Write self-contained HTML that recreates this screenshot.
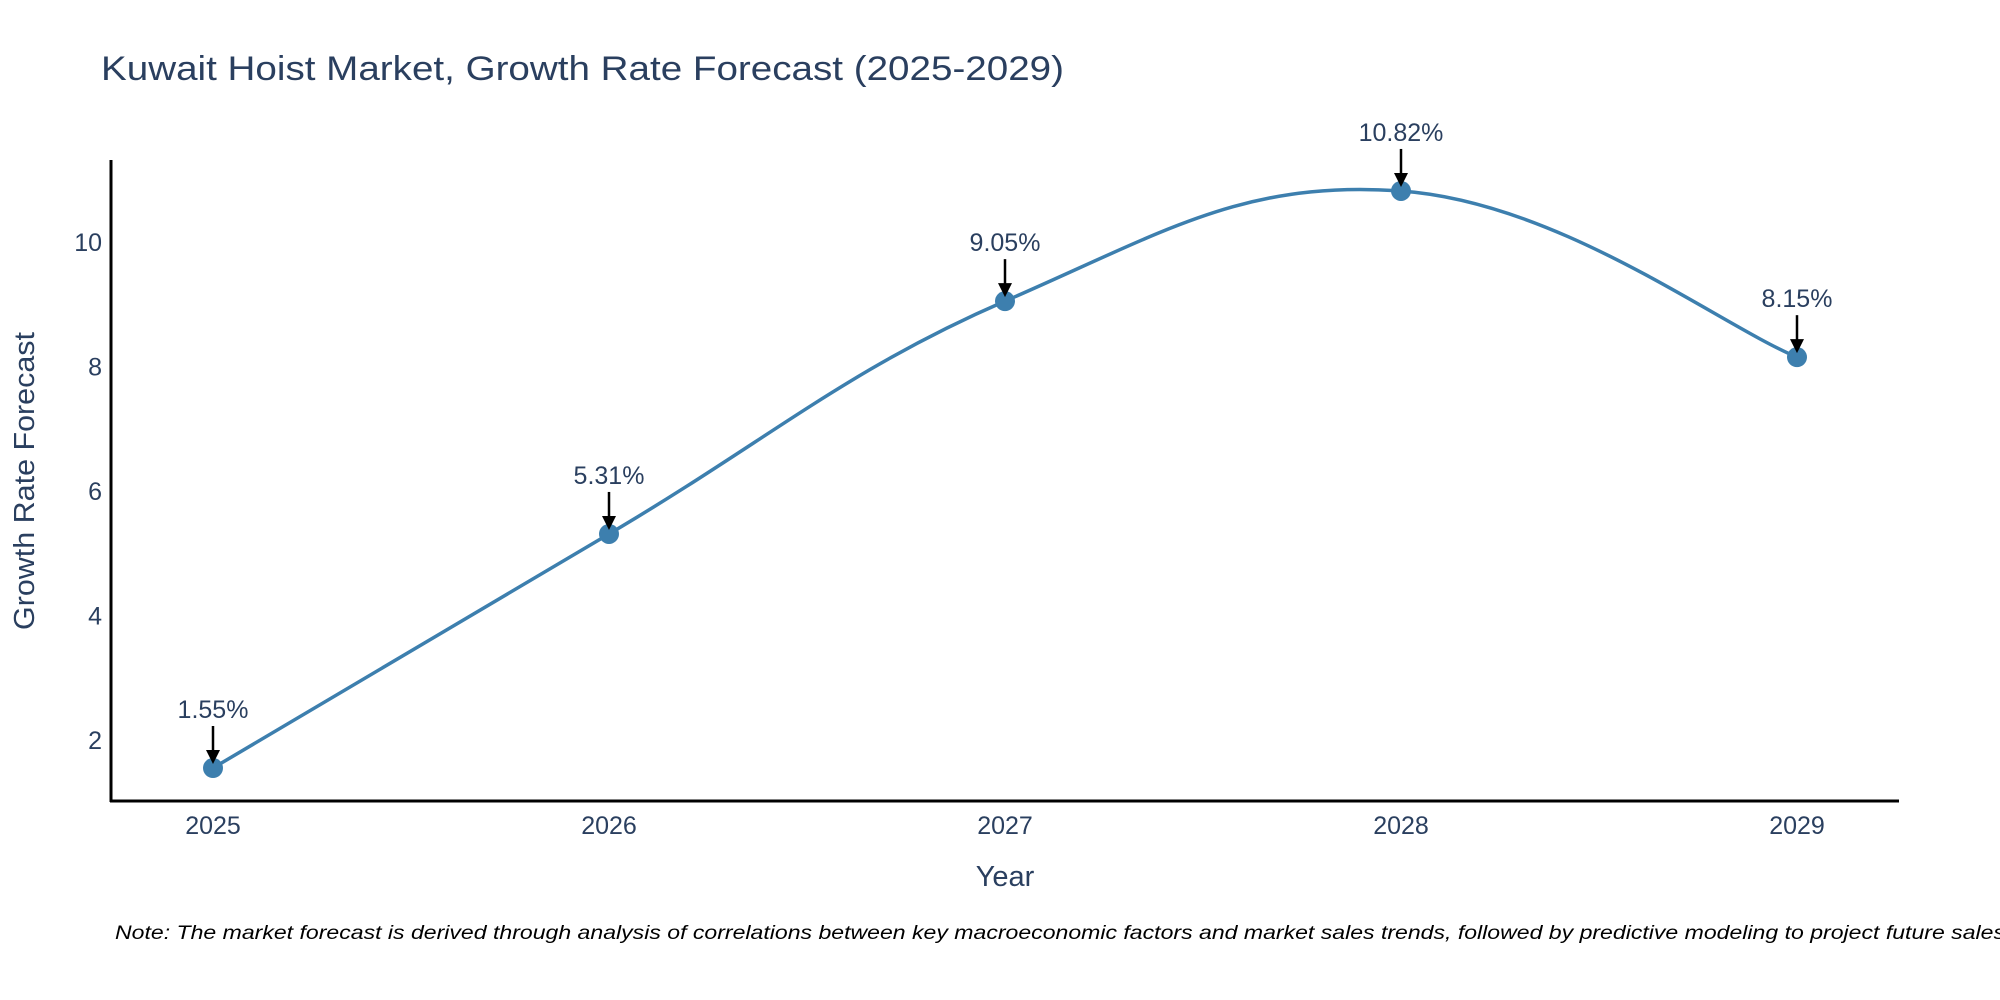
<!DOCTYPE html>
<html><head><meta charset="utf-8"><style>
body{margin:0;background:#fff;overflow:hidden;}
svg{display:block;font-family:"Liberation Sans","DejaVu Sans",sans-serif;}
</style></head><body>
<svg id="chart" width="2000" height="1000" viewBox="0 0 2000 1000">
<text x="101" y="80" font-size="34" fill="#2a3f5f" textLength="963" lengthAdjust="spacingAndGlyphs">Kuwait Hoist Market, Growth Rate Forecast (2025-2029)</text>
<g id="yticks"></g>
<g id="xticks"></g>
<line x1="111" y1="160" x2="111" y2="802" stroke="#000" stroke-width="3"/>
<line x1="110" y1="801" x2="1899" y2="801" stroke="#000" stroke-width="3"/>
<text transform="translate(34,481) rotate(-90)" text-anchor="middle" font-size="29" fill="#2a3f5f" textLength="298" lengthAdjust="spacingAndGlyphs">Growth Rate Forecast</text>
<text x="1005" y="886" text-anchor="middle" font-size="29" fill="#2a3f5f">Year</text>
<g id="series"></g>
<text x="115" y="939" font-size="19" font-style="italic" fill="#000" textLength="1890" lengthAdjust="spacingAndGlyphs">Note: The market forecast is derived through analysis of correlations between key macroeconomic factors and market sales trends, followed by predictive modeling to project future sales</text>
</svg>
<script>
const years = [2025, 2026, 2027, 2028, 2029];
const values = [1.55, 5.31, 9.05, 10.82, 8.15];
const labels = ["1.55%", "5.31%", "9.05%", "10.82%", "8.15%"];
const yTicks = [2, 4, 6, 8, 10];

const NS = "http://www.w3.org/2000/svg";
function xS(v){ return 213 + (v - 2025) * (1797 - 213) / 4; }
function yS(v){ return 740 - (v - 2) * (740 - 242) / 8; }
function mk(tag, attrs, parent){ const e = document.createElementNS(NS, tag); for (const k in attrs) e.setAttribute(k, attrs[k]); parent.appendChild(e); return e; }

const yg = document.getElementById('yticks');
yTicks.forEach(t => {
  const e = mk('text', {x: 102, y: yS(t) + 9, 'text-anchor': 'end', 'font-size': 25, fill: '#2a3f5f'}, yg);
  
  
  e.textContent = t;
});
const xg = document.getElementById('xticks');
years.forEach(t => {
  const e = mk('text', {x: xS(t), y: 834, 'text-anchor': 'middle', 'font-size': 25, fill: '#2a3f5f'}, xg);
  
  
  e.textContent = t;
});

const sg = document.getElementById('series');
const pts = years.map((y, i) => [xS(y), yS(values[i])]);
let d = `M${pts[0][0]},${pts[0][1]}`;
const s = 0.2;
for (let i = 0; i < pts.length - 1; i++) {
  const p0 = pts[Math.max(0, i - 1)], p1 = pts[i], p2 = pts[i + 1], p3 = pts[Math.min(pts.length - 1, i + 2)];
  const c1 = [p1[0] + (p2[0] - p0[0]) * s, p1[1] + (p2[1] - p0[1]) * s];
  const c2 = [p2[0] - (p3[0] - p1[0]) * s, p2[1] - (p3[1] - p1[1]) * s];
  d += ` C${c1[0]},${c1[1]} ${c2[0]},${c2[1]} ${p2[0]},${p2[1]}`;
}
const line = mk('path', {d: d, fill: 'none', stroke: '#3d7fae', 'stroke-width': 3.5}, sg);


pts.forEach((p, i) => {
  const c = mk('circle', {cx: p[0], cy: p[1], r: 10, fill: '#3d7fae'}, sg);
  
  
  const a = mk('line', {x1: p[0], y1: p[1] - 42, x2: p[0], y2: p[1] - 14, stroke: '#000', 'stroke-width': 2.5}, sg);
  
  
  const h = mk('path', {d: `M${p[0]-7},${p[1]-18} L${p[0]+7},${p[1]-18} L${p[0]},${p[1]-4} Z`, fill: '#000'}, sg);
  
  
  const t = mk('text', {x: p[0], y: p[1] - 50, 'text-anchor': 'middle', 'font-size': 25, fill: '#2a3f5f'}, sg);
  
  
  t.textContent = labels[i];
});
</script>
</body></html>
